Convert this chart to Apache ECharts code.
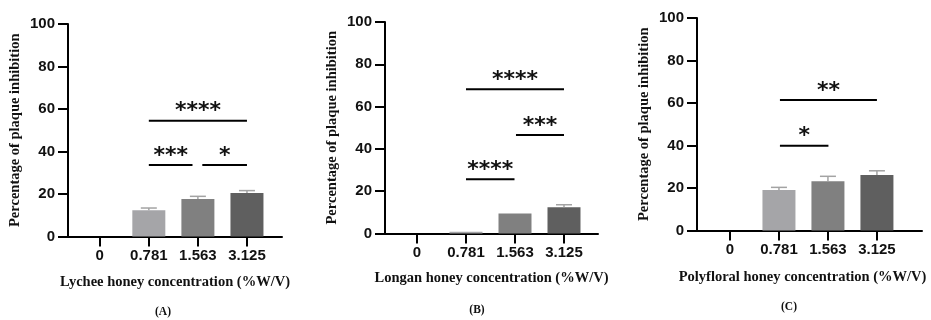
<!DOCTYPE html>
<html>
<head>
<meta charset="utf-8">
<script src="https://cdn.jsdelivr.net/npm/echarts@6/dist/echarts.min.js"></script>
<style>
  html, body { margin: 0; padding: 0; background: #fff; }
  #chart { width: 931px; height: 320px; }
</style>
</head>
<body>
<div id="chart"></div>
<script>
// categories and tick labels
const categories = ['0', '0.781', '1.563', '3.125'];
const yTicks = [0, 20, 40, 60, 80, 100];

// (A) lychee honey
const lycheeMean = [0, 12.3, 17.6, 20.5];
const lycheeSd = [0, 1.1, 1.3, 1.1];
const lycheeSig = [[1, 3, 54.5], [1, 1.89, 33.7], [2.09, 3, 33.7]];
const lycheeStars = ['****', '***', '*'];

// (B) longan honey
const longanMean = [0, 0.8, 9.4, 12.4];
const longanSd = [0, 0, 0, 1.2];
const longanSig = [[1, 3, 68.2], [2.02, 3, 46.6], [1, 1.99, 25.6]];
const longanStars = ['****', '***', '****'];

// (C) polyfloral honey
const polyMean = [0, 19.1, 23.2, 26.1];
const polySd = [0, 1.2, 2.3, 2.0];
const polySig = [[1.02, 3, 61.4], [1.02, 2.01, 39.9]];
const polyStars = ['**', '*'];

const barColors = ['#a5a5a8', '#a5a5a8', '#808080', '#5f5f5f'];
const serif = '"Liberation Serif", "Times New Roman", serif';
const sans = '"Liberation Sans", Arial, sans-serif';

const panels = [
  { left: 68, top: 24, width: 214, height: 212.5, min: -0.647, max: 3.714,
    xName: 'Lychee honey concentration (%W/V)', namePad: [0, 0, 0, 0], nameGap: 38,
    mean: lycheeMean, sd: lycheeSd, sig: lycheeSig, stars: lycheeStars,
    tag: '(A)', tagX: 163, tagY: 312 },
  { left: 385, top: 22, width: 213, height: 211.5, min: -0.653, max: 3.694,
    xName: 'Longan honey concentration (%W/V)', namePad: [0, 0, 0, 0], nameGap: 37,
    mean: longanMean, sd: longanSd, sig: longanSig, stars: longanStars,
    tag: '(B)', tagX: 477, tagY: 310 },
  { left: 697, top: 18, width: 225, height: 212.5, min: -0.673, max: 3.92,
    xName: 'Polyfloral honey concentration (%W/V)', namePad: [0, 14, 0, 0], nameGap: 39,
    mean: polyMean, sd: polySd, sig: polySig, stars: polyStars,
    tag: '(C)', tagX: 789, tagY: 307 }
];

const grid = [], xAxis = [], yAxis = [], series = [];

panels.forEach((p, k) => {
  grid.push({ left: p.left, top: p.top, width: p.width, height: p.height });

  xAxis.push({
    type: 'value', gridIndex: k, min: p.min, max: p.max,
    name: p.xName, nameLocation: 'middle', nameGap: p.nameGap,
    nameTextStyle: { fontFamily: serif, fontWeight: 'bold', fontSize: 14.5, color: '#111', padding: p.namePad },
    axisLine: { show: true, onZero: false, lineStyle: { color: '#000', width: 2 } },
    axisTick: { show: true, length: 10, customValues: [0, 1, 2, 3], lineStyle: { color: '#000', width: 2 } },
    axisLabel: {
      customValues: [0, 1, 2, 3], margin: 12,
      formatter: v => categories[Math.round(v)],
      fontFamily: sans, fontWeight: 'bold', fontSize: 15, color: '#111'
    },
    splitLine: { show: false }
  });

  yAxis.push({
    type: 'value', gridIndex: k, min: 0, max: 100, interval: 20,
    name: 'Percentage of plaque inhibition', nameLocation: 'middle', nameGap: 45,
    nameTextStyle: { fontFamily: serif, fontWeight: 'bold', fontSize: 14.5, color: '#111' },
    axisLine: { show: true, onZero: false, lineStyle: { color: '#000', width: 2 } },
    axisTick: { show: true, length: 10, lineStyle: { color: '#000', width: 2 } },
    axisLabel: { margin: 13, fontFamily: sans, fontWeight: 'bold', fontSize: 15, color: '#111',
      formatter: v => (yTicks.indexOf(v) >= 0 ? String(v) : '') },
    splitLine: { show: false }
  });

  series.push({
    type: 'bar', xAxisIndex: k, yAxisIndex: k, barWidth: 33, z: 2,
    data: p.mean.map((v, i) => ({ value: [i, v], itemStyle: { color: barColors[i] } }))
  });

  // upper error bars
  series.push({
    type: 'custom', xAxisIndex: k, yAxisIndex: k, z: 3,
    data: p.mean.map((v, i) => [i, v, p.sd[i]]),
    encode: { x: 0, y: 1 },
    renderItem: (params, api) => {
      const sd = api.value(2);
      if (!sd) return null;
      const x = api.value(0), m = api.value(1);
      const base = api.coord([x, m]);
      const top = api.coord([x, m + sd]);
      const st = { stroke: '#a3a3a3', lineWidth: 1.5 };
      return { type: 'group', children: [
        { type: 'line', shape: { x1: base[0], y1: base[1], x2: top[0], y2: top[1] }, style: st },
        { type: 'line', shape: { x1: top[0] - 8, y1: top[1], x2: top[0] + 8, y2: top[1] }, style: st }
      ] };
    }
  });

  // significance brackets
  series.push({
    type: 'custom', xAxisIndex: k, yAxisIndex: k, z: 4,
    data: p.sig,
    encode: { x: [0, 1], y: 2 },
    renderItem: (params, api) => {
      const y = api.value(2);
      const a = api.coord([api.value(0), y]);
      const b = api.coord([api.value(1), y]);
      return { type: 'group', children: [
        { type: 'line', shape: { x1: a[0], y1: a[1], x2: b[0], y2: b[1] },
          style: { stroke: '#000', lineWidth: 2 } },
        { type: 'text', x: (a[0] + b[0]) / 2, y: a[1] - 9,
          style: { text: p.stars[params.dataIndex], fill: '#111', align: 'center', verticalAlign: 'middle',
            font: 'bold 22px "DejaVu Sans", sans-serif' } }
      ] };
    }
  });
});

const chart = echarts.init(document.getElementById('chart'));
chart.setOption({
  animation: false,
  grid, xAxis, yAxis, series,
  graphic: panels.map(p => ({
    type: 'text', x: p.tagX, y: p.tagY,
    style: { text: p.tag, fill: '#111', font: 'bold 11.5px ' + serif, align: 'center', verticalAlign: 'middle' }
  }))
});
</script>
</body>
</html>
